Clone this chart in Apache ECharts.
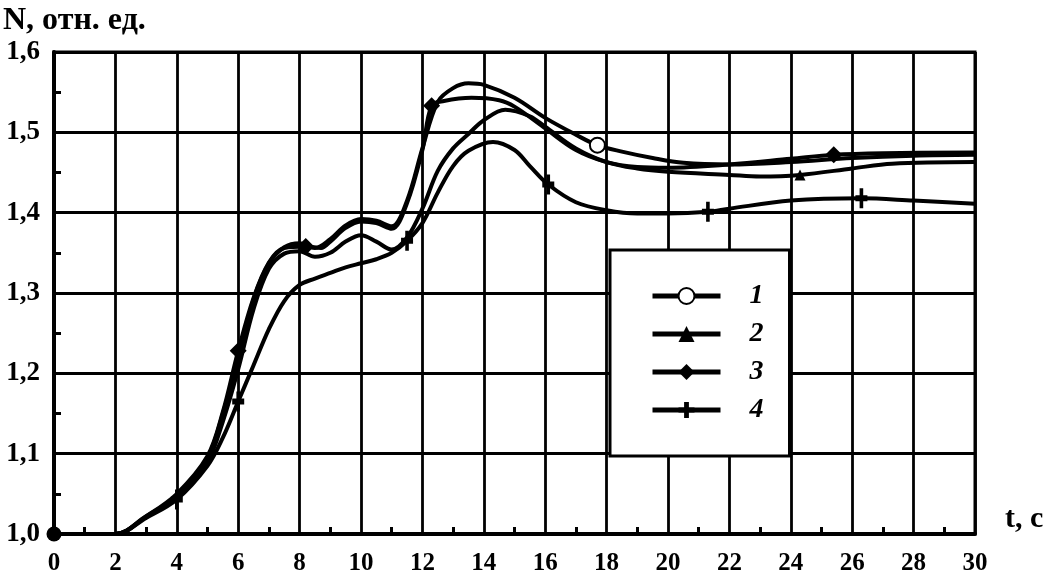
<!DOCTYPE html>
<html>
<head>
<meta charset="utf-8">
<script src="https://cdn.jsdelivr.net/npm/echarts@6/dist/echarts.min.js"></script>
<style>
html,body{margin:0;padding:0;background:#fff;}
#chart{width:1057px;height:576px;}
</style>
</head>
<body>
<div id="chart"></div>
<script>
// ---- data ----
const seriesNames = ['1', '2', '3', '4'];
const yTickLabels = ['1,0', '1,1', '1,2', '1,3', '1,4', '1,5', '1,6'];
const yAxisTitle = 'N, отн. ед.';
const xAxisTitle = 't, c';

// curve 1 (open circle)
const t1 = [0, 1, 2, 3, 4, 5, 5.5, 6, 6.5, 7, 7.5, 8, 8.5, 9, 9.5, 10, 10.5, 11, 11.5, 12, 12.5, 13, 13.5, 14, 15, 16, 17, 17.7, 18.5, 19.5, 20.5, 22, 24, 26, 28, 30];
const n1 = [1.0, 1.0, 1.0, 1.022, 1.047, 1.095, 1.15, 1.218, 1.292, 1.337, 1.357, 1.362, 1.356, 1.367, 1.384, 1.392, 1.39, 1.383, 1.415, 1.48, 1.538, 1.555, 1.561, 1.559, 1.543, 1.518, 1.497, 1.484, 1.476, 1.468, 1.462, 1.46, 1.463, 1.468, 1.471, 1.472];
const marks1 = [17.7];

// curve 2 (triangle)
const t2 = [0, 1, 2, 3, 4, 5, 5.5, 6, 6.5, 7, 7.5, 8, 8.5, 9, 9.5, 10, 10.5, 11, 11.5, 12, 12.5, 13, 13.5, 14, 14.7, 15.5, 16, 17, 18, 19, 20, 22, 23, 24.3, 26, 27.3, 30];
const n2 = [1.0, 1.0, 1.0, 1.021, 1.045, 1.09, 1.14, 1.205, 1.28, 1.33, 1.349, 1.352, 1.345, 1.35, 1.364, 1.372, 1.364, 1.354, 1.369, 1.405, 1.452, 1.48, 1.498, 1.515, 1.528, 1.52, 1.507, 1.48, 1.463, 1.455, 1.451, 1.447, 1.445, 1.447, 1.455, 1.461, 1.463];
const marks2 = [24.3];

// curve 3 (filled diamond)
const t3 = [0, 1, 2, 3, 4, 5, 5.5, 6, 6.5, 7, 7.5, 8.2, 8.7, 9, 9.5, 10, 10.5, 11, 11.5, 12, 12.3, 12.7, 13.6, 14.5, 15, 16, 17, 18, 19, 20, 22, 24, 25.4, 27, 30];
const n3 = [1.0, 1.0, 1.0, 1.022, 1.05, 1.097, 1.152, 1.228, 1.294, 1.338, 1.356, 1.358, 1.356, 1.364, 1.381, 1.389, 1.387, 1.38, 1.412, 1.478, 1.533, 1.539, 1.543, 1.54, 1.532, 1.505, 1.478, 1.463, 1.457, 1.456, 1.46, 1.467, 1.472, 1.474, 1.475];
const marks3 = [0, 6, 8.2, 12.3, 25.4];

// curve 4 (plus)
const t4 = [0, 1, 2, 3, 4, 5, 5.5, 6, 6.5, 7, 7.5, 8, 8.5, 9, 9.5, 10, 10.5, 11, 11.5, 12, 12.5, 13, 13.5, 14.3, 15, 15.5, 16.1, 17, 18, 19, 20, 21.3, 22, 24, 26.3, 28, 30];
const n4 = [1.0, 1.0, 1.0, 1.02, 1.043, 1.085, 1.12, 1.165, 1.21, 1.255, 1.29, 1.31, 1.318, 1.325, 1.332, 1.337, 1.342, 1.35, 1.365, 1.387, 1.425, 1.458, 1.477, 1.488, 1.478, 1.458, 1.435, 1.413, 1.403, 1.399, 1.399, 1.401, 1.405, 1.415, 1.418, 1.415, 1.411];
const marks4 = [4, 6, 11.5, 16.1, 21.3, 26.3];

// ---- chart ----
const PLUS = 'path://M3.5,0H6.5V3.5H10V6.5H6.5V10H3.5V6.5H0V3.5H3.5Z';
const SERIF = '"Liberation Serif", "DejaVu Serif", serif';

function buildData(ts, vs, marks) {
  return ts.map((t, i) => {
    if (marks.indexOf(t) >= 0) {
      if (t === 0) return { value: [t, vs[i]], symbol: 'circle', symbolSize: 15 };
      return { value: [t, vs[i]] };
    }
    return { value: [t, vs[i]], symbol: 'none' };
  });
}

function mkSeries(name, ts, vs, marks, symbol, size, itemStyle) {
  return {
    name: name,
    type: 'line',
    smooth: 0.35,
    clip: false,
    symbol: symbol,
    symbolSize: size,
    showSymbol: true,
    showAllSymbol: true,
    lineStyle: { color: '#000', width: 4 },
    itemStyle: itemStyle,
    data: buildData(ts, vs, marks),
    animation: false,
    z: 3
  };
}

const chart = echarts.init(document.getElementById('chart'), null, { renderer: 'canvas' });
chart.setOption({
  backgroundColor: '#fff',
  animation: false,
  title: {
    text: yAxisTitle,
    left: -2,
    top: 0,
    textStyle: { fontFamily: SERIF, fontWeight: 'bold', fontSize: 32, color: '#000' }
  },
  grid: {
    left: 54, right: 82, top: 52, bottom: 41,
    show: true, borderColor: '#000', borderWidth: 3, backgroundColor: 'transparent'
  },
  legend: {
    orient: 'vertical',
    left: 610,
    top: 250,
    data: seriesNames,
    itemWidth: 68,
    itemHeight: 20,
    itemGap: 10,
    padding: [32, 26, 32, 40],
    backgroundColor: '#fff',
    borderColor: '#000',
    borderWidth: 3,
    selectedMode: false,
    lineStyle: { width: 5 },
    textStyle: { fontFamily: SERIF, fontStyle: 'italic', fontWeight: 'bold', fontSize: 28, color: '#000', padding: [0, 0, 0, 24] }
  },
  xAxis: {
    type: 'value',
    min: 0, max: 30, interval: 2,
    name: xAxisTitle,
    nameLocation: 'end',
    nameGap: 30,
    nameTextStyle: { fontFamily: SERIF, fontWeight: 'bold', fontSize: 30, color: '#000', align: 'left', verticalAlign: 'bottom', padding: [0, 0, 0, 0] },
    axisLine: { show: true, lineStyle: { color: '#000', width: 4 } },
    axisTick: { show: false, inside: true },
    minorTick: { show: true, splitNumber: 2, length: 7, lineStyle: { color: '#000', width: 3 } },
    splitLine: { show: true, lineStyle: { color: '#000', width: 2.8 } },
    axisLabel: { fontFamily: SERIF, fontWeight: 'bold', fontSize: 25, color: '#000', margin: 17 }
  },
  yAxis: {
    type: 'value',
    min: 1.0, max: 1.6, interval: 0.1,
    axisLine: { show: true, lineStyle: { color: '#000', width: 4 } },
    axisTick: { show: false, inside: true },
    minorTick: { show: true, splitNumber: 2, length: 7, lineStyle: { color: '#000', width: 3 } },
    splitLine: { show: true, lineStyle: { color: '#000', width: 2.8 } },
    axisLabel: {
      fontFamily: SERIF, fontWeight: 'bold', fontSize: 27, color: '#000', margin: 14,
      formatter: function (v) { return yTickLabels[Math.round((v - 1.0) * 10)]; }
    }
  },
  series: [
    mkSeries(seriesNames[0], t1, n1, marks1, 'emptyCircle', 15, { color: '#000', borderColor: '#000', borderWidth: 2.5 }),
    mkSeries(seriesNames[1], t2, n2, marks2, 'triangle', 11, { color: '#000' }),
    mkSeries(seriesNames[2], t3, n3, marks3, 'diamond', 17, { color: '#000' }),
    mkSeries(seriesNames[3], t4, n4, marks4, PLUS, [12, 20], { color: '#000' })
  ]
});
</script>
</body>
</html>
